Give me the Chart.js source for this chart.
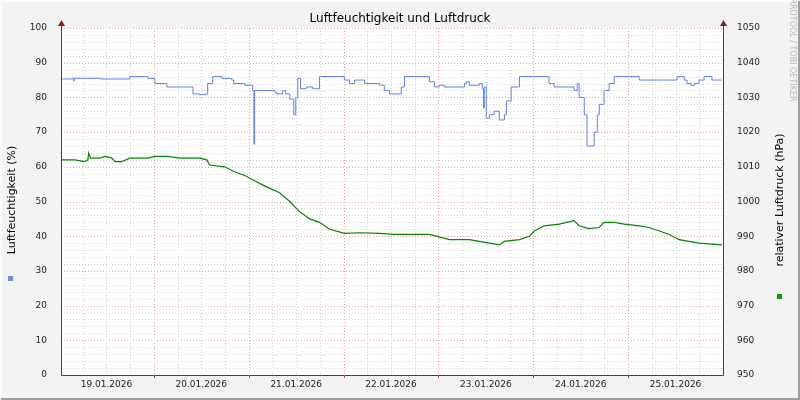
<!DOCTYPE html>
<html><head><meta charset="utf-8">
<script src="https://cdn.jsdelivr.net/npm/chart.js@4/dist/chart.umd.min.js"></script>
<style>html,body{margin:0;padding:0;background:#f3f3f3}#w{width:800px;height:400px}</style>
</head><body><div id="w"><canvas id="c" width="800" height="400"></canvas></div>
<script>
// hours relative to 20.01.2026 00:00
const humHours = [-23.5,-20.7,-20.4,-20.1,-13.6,-6.1,-1.5,0.25,3.3,7.1,9.9,11.6,13.1,13.6,14.9,17.2,19.7,20.2,23.0,25.0,25.3,25.5,30.6,31.1,32.6,33.3,34.4,35.4,35.9,36.4,37.1,38.6,40.2,41.9,44.5,48.2,49.5,50.8,52.5,53.3,57.1,58.3,59.6,62.1,62.6,63.4,67.9,69.7,71.0,72.2,73.5,78.6,79.1,79.8,82.3,83.1,83.4,83.6,84.1,84.9,86.1,87.4,88.7,89.2,90.4,92.5,98.8,100.0,101.3,103.8,106.3,107.1,107.6,108.1,108.9,109.6,110.6,111.4,112.2,112.7,113.9,115.2,116.5,119.0,122.8,129.1,132.4,134.2,134.9,135.9,136.7,137.9,139.2,141.2,143.7];
const humValues = [85.3,85.5,84.8,85.5,85.3,86,85.5,84,83,83,81,80.8,81,84,86,85.5,85,84,83.5,82,66.5,82,81.5,81,82,81,79.5,75,80,85.5,82.5,83,82.5,86,86,85,84,85,85,84,83.5,82,81,81,83,86,86,84.5,83,83.5,83,84,84.5,83.5,84,82.5,77,83,74,75,76,73.5,75,79,83,86,86,84,83,83,82,84,80,80,75,66,66,70,75,78,82,84,86,86,85,85,86,85,84,83.5,84,85,86,85,85];
const presHours = [-23.5,-20,-17.5,-16.7,-16.5,-16,-13.6,-12.4,-10.6,-9.8,-8.1,-6.1,-1.5,0.25,3.5,6.6,11.6,13.4,14.1,17.9,20.5,23.0,25.5,28.0,31.8,34.4,36.9,39.4,41.9,44.5,48.2,52.0,57.1,60.9,64.7,69.7,74.8,79.8,84.9,87.4,88.7,92.5,95.0,96.3,98.8,102.6,106.3,107.6,110.1,112.7,113.9,116.5,119.0,122.8,125.3,127.9,130.4,132.9,135.4,138.0,143.7];
const presValues = [1012,1012,1011.5,1012,1014,1012.5,1012.5,1013,1012.5,1011.5,1011.5,1012.5,1012.5,1013,1013,1012.5,1012.5,1012,1010.5,1010,1008.5,1007.5,1006,1004.5,1002.5,1000,997,995,994,992,990.8,991,990.8,990.5,990.5,990.5,989,989,988,987.5,988.5,989,990,991.5,993,993.5,994.5,993,992.2,992.5,994,994,993.5,993,992.5,991.5,990.5,989,988.5,988,987.5];
const dayLabels = ['19.01.2026','20.01.2026','21.01.2026','22.01.2026','23.01.2026','24.01.2026','25.01.2026'];
const humPts = humHours.map((h,i)=>({x:h,y:humValues[i]}));
const presPts = presHours.map((h,i)=>({x:h,y:presValues[i]}));

const deco = {
  id:'deco',
  beforeDraw(ch){
    const c=ch.ctx; c.save();
    c.fillStyle='#f3f3f3'; c.fillRect(0,0,800,400);
    c.strokeStyle='#fcfcfc'; c.lineWidth=2; c.beginPath(); c.moveTo(1,399); c.lineTo(1,1); c.lineTo(799,1); c.stroke();
    c.strokeStyle='#9e9e9e'; c.beginPath(); c.moveTo(1,399); c.lineTo(799,399); c.lineTo(799,1); c.stroke();
    const a=ch.chartArea; c.fillStyle='#fff'; c.fillRect(a.left,a.top,a.right-a.left,a.bottom-a.top);
    c.restore();
  },
  beforeDatasetsDraw(ch){
    const c=ch.ctx,a=ch.chartArea,x=ch.scales.x,y=ch.scales.y; c.save(); c.lineWidth=1;
    c.setLineDash([1,2]);
    for(let v=2;v<=100;v+=2){const p=Math.round(y.getPixelForValue(v))+0.5;c.strokeStyle=v%10===0?'#e8a0a0':'#d4d4d4';c.beginPath();c.moveTo(a.left,p);c.lineTo(a.right,p);c.stroke();}
    for(let h=-18;h<=144;h+=6){const p=Math.round(x.getPixelForValue(h))+0.5;c.strokeStyle=(h%24===0)?'#e8a0a0':'#d4d4d4';c.beginPath();c.moveTo(p,a.top);c.lineTo(p,a.bottom);c.stroke();}
    c.restore();
  },
  afterDraw(ch){
    const c=ch.ctx,a=ch.chartArea,x=ch.scales.x; c.save();
    c.strokeStyle='#404040'; c.lineWidth=1; c.setLineDash([]);
    c.beginPath(); c.moveTo(a.left+0.5,a.top-6); c.lineTo(a.left+0.5,a.bottom+0.5); c.lineTo(a.right+0.5,a.bottom+0.5); c.lineTo(a.right+0.5,a.top-6); c.stroke();
    for(let h=0;h<=120;h+=24){const p=Math.round(x.getPixelForValue(h))+0.5;c.strokeStyle='#c04040';c.beginPath();c.moveTo(p,a.bottom);c.lineTo(p,a.bottom+3);c.stroke();}
    c.fillStyle='#8b1a1a';
    [a.left,a.right].forEach(px=>{c.beginPath();c.moveTo(px-3,a.top-2);c.lineTo(px+4,a.top-2);c.lineTo(px+0.5,a.top-8);c.closePath();c.fill();});
    c.fillStyle='#000'; c.font='12px "DejaVu Sans"'; c.textAlign='center'; c.textBaseline='middle';
    c.fillText('Luftfeuchtigkeit und Luftdruck',400,19);
    c.font='11px "DejaVu Sans"';
    c.save(); c.translate(12,200); c.rotate(-Math.PI/2); c.fillText('Luftfeuchtigkeit (%)',0,0); c.restore();
    c.save(); c.translate(780,200); c.rotate(-Math.PI/2); c.fillText('relativer Luftdruck (hPa)',0,0); c.restore();
    c.fillStyle='#b8b8b8'; c.font='8px "DejaVu Sans"';
    c.save(); c.translate(792,50); c.rotate(Math.PI/2); c.fillText('RRDTOOL / TOBI OETIKER',0,0); c.restore();
    c.fillStyle='#6a8ef0'; c.fillRect(8,276,5,5);
    c.fillStyle='#00a000'; c.fillRect(777,294,5,5);
    c.restore();
  }
};

new Chart(document.getElementById('c'),{
  type:'line',
  data:{datasets:[
    {data:humPts,yAxisID:'y',borderColor:'#5f83ee',borderWidth:1,pointRadius:0,stepped:true,fill:false},
    {data:presPts,yAxisID:'y2',borderColor:'#008800',borderWidth:1.2,pointRadius:0,tension:0,fill:false}
  ]},
  options:{
    responsive:false,animation:false,devicePixelRatio:1,
    layout:{padding:{top:28,left:0,right:0,bottom:0}},
    plugins:{legend:{display:false},tooltip:{enabled:false},title:{display:false}},
    scales:{
      x:{type:'linear',min:-23.5,max:144,
        afterBuildTicks(s){const t=[];for(let h=-12;h<=132;h+=24)t.push({value:h});s.ticks=t;},
        afterFit(s){s.height=25;},
        grid:{display:false},border:{display:false},
        ticks:{padding:-4,maxRotation:0,autoSkip:false,color:'#222',font:{family:'DejaVu Sans',size:9},
          callback:(v)=>dayLabels[Math.round((v+12)/24)]}},
      y:{position:'left',min:0,max:100,afterFit(s){s.width=61;},
        grid:{display:false},border:{display:false},
        ticks:{stepSize:10,padding:6,color:'#222',font:{family:'DejaVu Sans',size:9},callback:v=>String(v)}},
      y2:{position:'right',min:950,max:1050,afterFit(s){s.width=77;},
        grid:{display:false},border:{display:false},
        ticks:{stepSize:10,padding:6,color:'#222',font:{family:'DejaVu Sans',size:9},callback:v=>String(v)}}
    }
  },
  plugins:[deco]
});
</script></body></html>
